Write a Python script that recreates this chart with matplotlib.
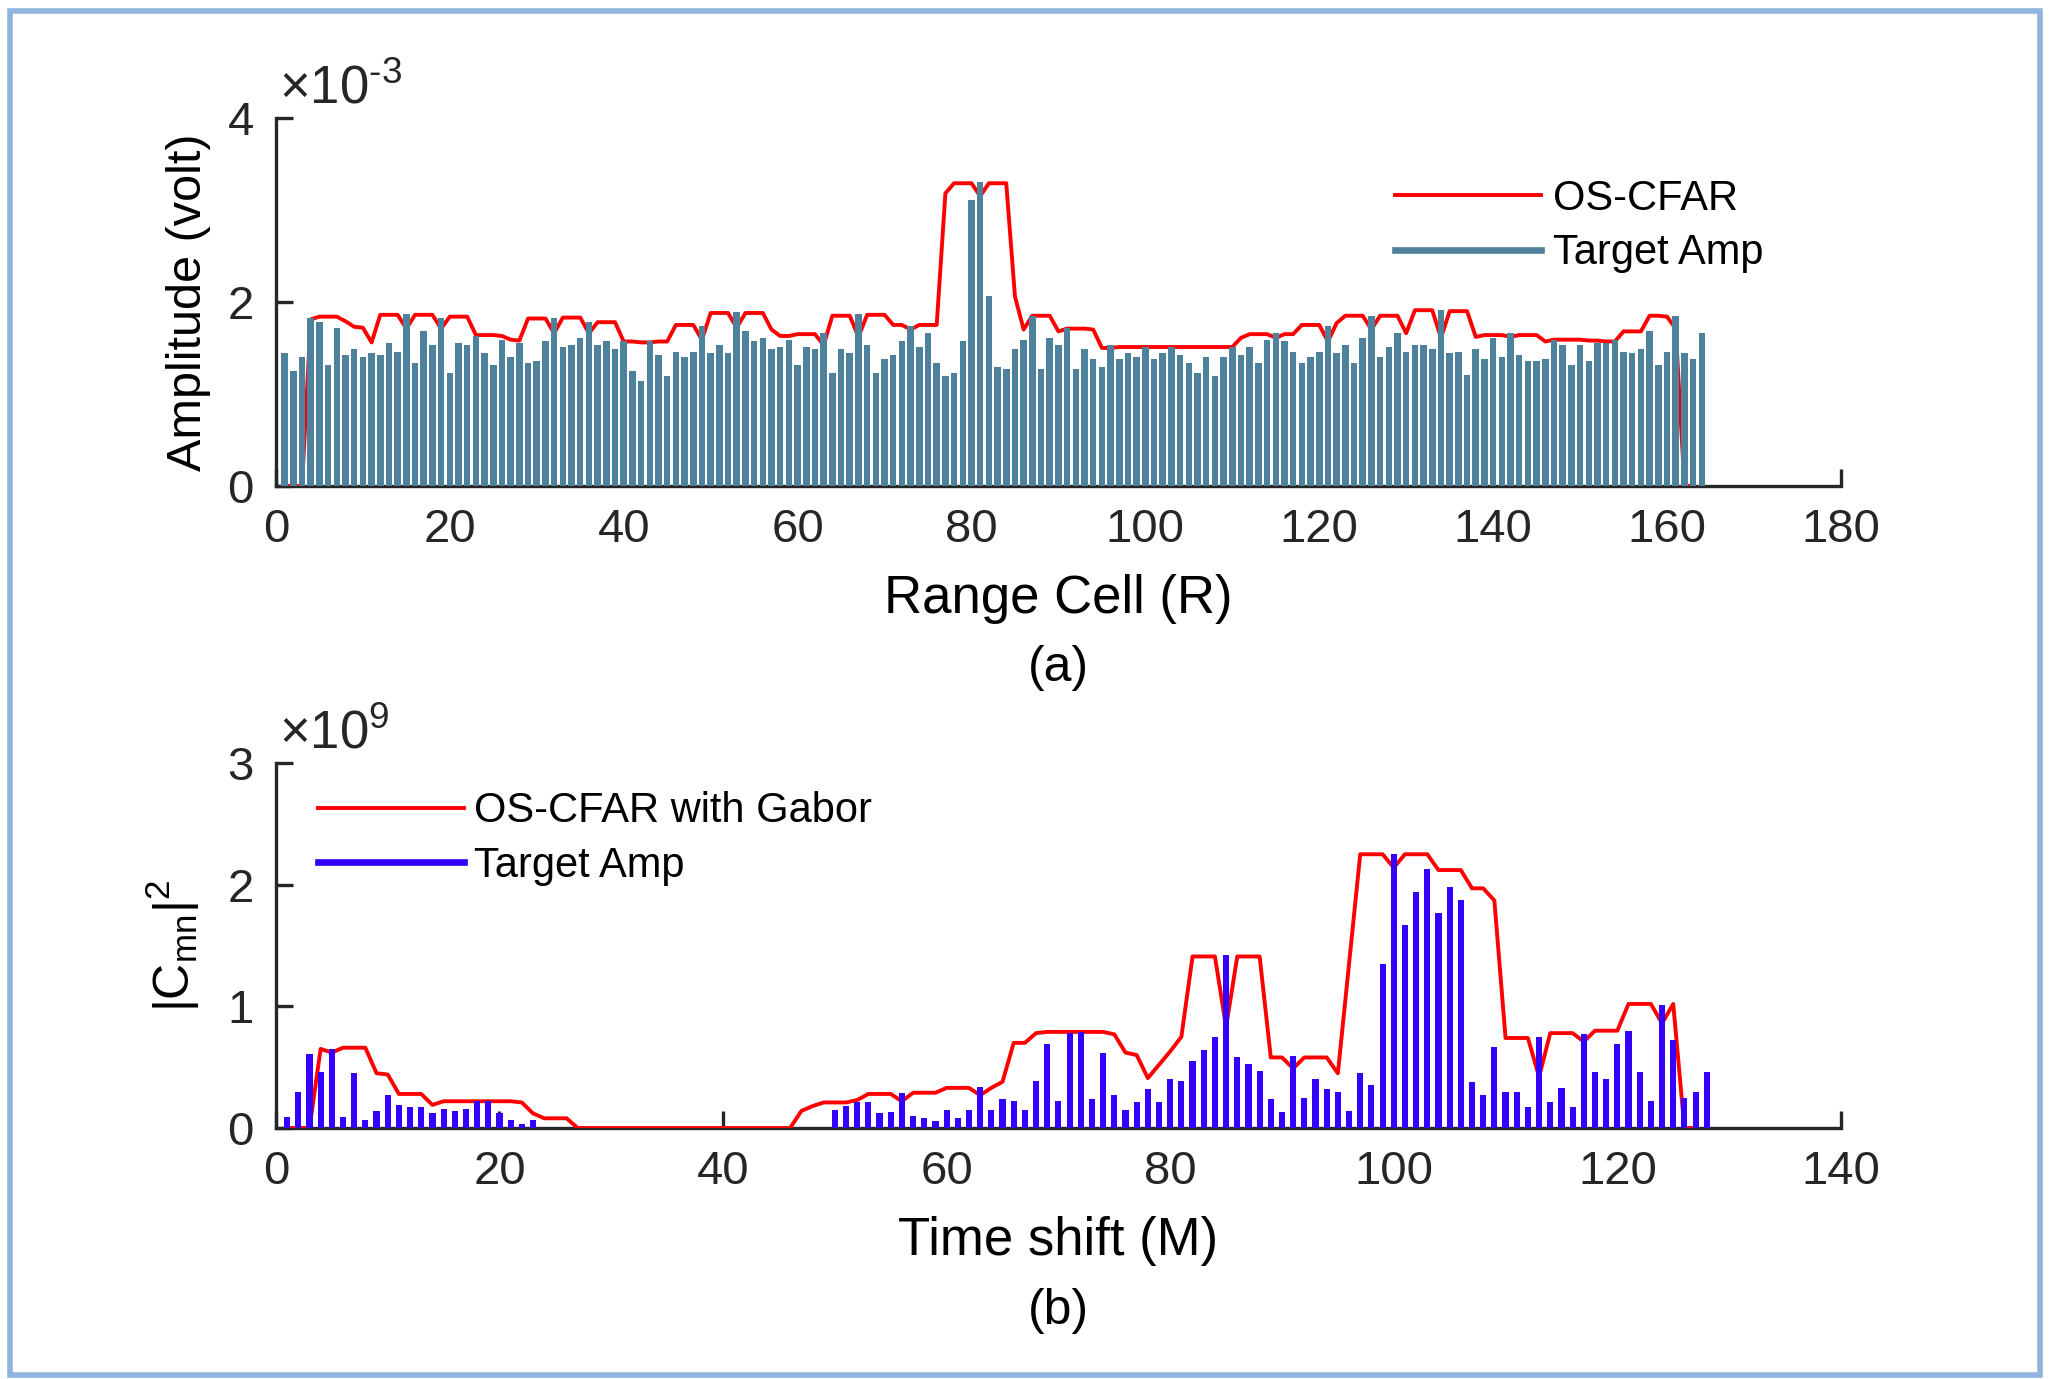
import numpy as np
import matplotlib
matplotlib.use("Agg")
import matplotlib.pyplot as plt
from matplotlib.lines import Line2D
from matplotlib.patches import Rectangle

plt.rcParams["font.family"] = ["Liberation Sans", "DejaVu Sans"]
plt.rcParams["mathtext.fontset"] = "custom"
plt.rcParams["mathtext.rm"] = "Liberation Sans"
plt.rcParams["mathtext.it"] = "Liberation Sans"

# (a) range cells, amplitude in 1e-3 volt
amp_a = [1.44, 1.25, 1.40, 1.83, 1.78, 1.32, 1.72, 1.42, 1.49, 1.40,
         1.44, 1.42, 1.55, 1.46, 1.87, 1.34, 1.68, 1.53, 1.83, 1.23,
         1.55, 1.53, 1.63, 1.44, 1.32, 1.59, 1.40, 1.55, 1.34, 1.36,
         1.57, 1.83, 1.51, 1.53, 1.61, 1.78, 1.53, 1.57, 1.49, 1.57,
         1.25, 1.14, 1.57, 1.42, 1.19, 1.46, 1.40, 1.46, 1.74, 1.44,
         1.53, 1.44, 1.89, 1.68, 1.57, 1.61, 1.49, 1.51, 1.59, 1.32,
         1.51, 1.49, 1.66, 1.23, 1.49, 1.44, 1.87, 1.53, 1.23, 1.38,
         1.42, 1.57, 1.74, 1.51, 1.66, 1.34, 1.19, 1.23, 1.57, 3.11,
         3.30, 2.06, 1.29, 1.27, 1.49, 1.59, 1.85, 1.27, 1.61, 1.53,
         1.72, 1.27, 1.49, 1.38, 1.29, 1.53, 1.38, 1.44, 1.40, 1.51,
         1.38, 1.44, 1.51, 1.42, 1.34, 1.23, 1.40, 1.19, 1.40, 1.51,
         1.42, 1.51, 1.34, 1.59, 1.66, 1.57, 1.46, 1.34, 1.40, 1.46,
         1.74, 1.44, 1.53, 1.34, 1.61, 1.85, 1.40, 1.51, 1.66, 1.46,
         1.53, 1.53, 1.49, 1.91, 1.44, 1.46, 1.21, 1.49, 1.38, 1.61,
         1.40, 1.66, 1.42, 1.36, 1.36, 1.38, 1.59, 1.53, 1.32, 1.53,
         1.36, 1.55, 1.55, 1.59, 1.46, 1.44, 1.49, 1.68, 1.32, 1.46,
         1.85, 1.44, 1.38, 1.66]

thr_a = [0, 0, 0, 1.81, 1.84, 1.84, 1.84, 1.79, 1.73, 1.72,
         1.56, 1.86, 1.86, 1.86, 1.71, 1.86, 1.86, 1.86, 1.71, 1.84,
         1.84, 1.84, 1.64, 1.64, 1.64, 1.63, 1.59, 1.58, 1.82, 1.82,
         1.82, 1.66, 1.83, 1.83, 1.83, 1.66, 1.78, 1.78, 1.78, 1.57,
         1.57, 1.56, 1.56, 1.57, 1.57, 1.75, 1.75, 1.75, 1.59, 1.88,
         1.88, 1.88, 1.72, 1.88, 1.88, 1.88, 1.70, 1.63, 1.63, 1.65,
         1.65, 1.65, 1.53, 1.85, 1.85, 1.85, 1.62, 1.86, 1.86, 1.86,
         1.75, 1.75, 1.70, 1.75, 1.75, 1.75, 3.18, 3.29, 3.29, 3.29,
         3.15, 3.29, 3.29, 3.29, 2.06, 1.70, 1.85, 1.85, 1.85, 1.68,
         1.71, 1.71, 1.71, 1.70, 1.50, 1.50, 1.51, 1.51, 1.51, 1.51,
         1.51, 1.51, 1.51, 1.51, 1.51, 1.51, 1.51, 1.51, 1.51, 1.51,
         1.61, 1.65, 1.65, 1.65, 1.61, 1.65, 1.65, 1.75, 1.75, 1.75,
         1.57, 1.77, 1.85, 1.85, 1.85, 1.70, 1.85, 1.85, 1.85, 1.66,
         1.91, 1.91, 1.91, 1.61, 1.90, 1.90, 1.90, 1.62, 1.64, 1.64,
         1.64, 1.62, 1.64, 1.64, 1.64, 1.57, 1.59, 1.59, 1.59, 1.59,
         1.58, 1.58, 1.57, 1.57, 1.68, 1.68, 1.68, 1.85, 1.85, 1.84,
         1.71, 0, 0]

# (b) time shift, |Cmn|^2 in 1e9
amp_b = [0.09, 0.30, 0.61, 0.46, 0.65, 0.09, 0.45, 0.07, 0.14, 0.27,
         0.19, 0.17, 0.17, 0.12, 0.16, 0.14, 0.16, 0.22, 0.22, 0.12,
         0.07, 0.03, 0.07, 0, 0, 0, 0, 0, 0, 0,
         0, 0, 0, 0, 0, 0, 0, 0, 0, 0,
         0, 0, 0, 0, 0, 0, 0, 0, 0, 0.15,
         0.18, 0.21, 0.21, 0.12, 0.13, 0.29, 0.10, 0.08, 0.06, 0.15,
         0.08, 0.15, 0.34, 0.15, 0.24, 0.22, 0.15, 0.39, 0.69, 0.22,
         0.78, 0.79, 0.24, 0.62, 0.27, 0.15, 0.21, 0.32, 0.21, 0.40,
         0.39, 0.55, 0.64, 0.75, 1.42, 0.58, 0.53, 0.47, 0.24, 0.13,
         0.59, 0.25, 0.40, 0.32, 0.30, 0.14, 0.45, 0.35, 1.35, 2.25,
         1.67, 1.94, 2.13, 1.77, 1.98, 1.87, 0.38, 0.27, 0.67, 0.30,
         0.30, 0.17, 0.75, 0.21, 0.33, 0.17, 0.77, 0.46, 0.40, 0.69,
         0.80, 0.46, 0.22, 1.01, 0.72, 0.25, 0.30, 0.46]

thr_b = [0, 0, 0, 0.65, 0.62, 0.66, 0.66, 0.66, 0.45, 0.44,
         0.28, 0.28, 0.28, 0.19, 0.22, 0.22, 0.22, 0.22, 0.22, 0.22,
         0.22, 0.21, 0.12, 0.08, 0.08, 0.08, 0, 0, 0, 0,
         0, 0, 0, 0, 0, 0, 0, 0, 0, 0,
         0, 0, 0, 0, 0, 0, 0.14, 0.18, 0.21, 0.21,
         0.21, 0.23, 0.28, 0.28, 0.28, 0.22, 0.29, 0.29, 0.29, 0.33,
         0.33, 0.33, 0.27, 0.33, 0.38, 0.70, 0.70, 0.78, 0.79, 0.79,
         0.79, 0.79, 0.79, 0.79, 0.77, 0.62, 0.60, 0.41, 0.52, 0.63,
         0.75, 1.41, 1.41, 1.41, 0.83, 1.41, 1.41, 1.41, 0.58, 0.58,
         0.49, 0.58, 0.58, 0.58, 0.45, 1.35, 2.25, 2.25, 2.25, 2.14,
         2.25, 2.25, 2.25, 2.12, 2.12, 2.12, 1.97, 1.97, 1.87, 0.74,
         0.74, 0.74, 0.42, 0.78, 0.78, 0.78, 0.71, 0.80, 0.80, 0.80,
         1.02, 1.02, 1.02, 0.86, 1.02, 0, 0]

cells_a = np.arange(1, len(amp_a) + 1)
cells_b = np.arange(1, len(amp_b) + 1)

red = "#ff0000"
teal = "#4e819b"
blue = "#3300ff"
axc = "#262626"

fig = plt.figure(figsize=(10.25, 6.895), dpi=200)
ax1 = fig.add_axes([0.1346, 0.6476, 0.7634, 0.2669])
ax2 = fig.add_axes([0.1346, 0.1820, 0.7634, 0.2647])


def style(ax):
    for s in ["top", "right"]:
        ax.spines[s].set_visible(False)
    for s in ["left", "bottom"]:
        ax.spines[s].set_linewidth(1.2)
        ax.spines[s].set_color(axc)
    ax.tick_params(direction="in", length=6, width=1.2, colors=axc,
                   labelsize=17, labelcolor="#262626", pad=8)


# (a)
ax1.plot(np.arange(1, len(thr_a) + 1), thr_a, color=red, lw=1.4, zorder=2.6)
ax1.bar(cells_a, amp_a, width=0.75, color=teal, zorder=3)
ax1.set_xlim(0, 180)
ax1.set_ylim(0, 4)
ax1.set_xticks(np.arange(0, 181, 20))
ax1.set_yticks([0, 2, 4])
style(ax1)
ax1.set_xlabel("Range Cell (R)", fontsize=19, labelpad=8)
ax1.set_ylabel("Amplitude (volt)", fontsize=17.5, labelpad=6)
ax1.text(0.002, 1.01, r"$\times10^{\text{-3}}$", transform=ax1.transAxes,
         ha="left", va="bottom", fontsize=19, color="#262626")
h1 = [Line2D([], [], color=red, lw=1.4), Line2D([], [], color=teal, lw=2.4)]
ax1.legend(h1, ["OS-CFAR", "Target Amp"], loc="upper left",
           bbox_to_anchor=(0.715, 0.835), frameon=False, fontsize=15,
           handlelength=3.5, handletextpad=0.3, labelspacing=0.35,
           borderpad=0, borderaxespad=0)
fig.text(0.5163, 0.5156, "(a)", ha="center", va="center", fontsize=18)

# (b)
ax2.plot(np.arange(1, len(thr_b) + 1), thr_b, color=red, lw=1.4, zorder=2.6)
ax2.bar(cells_b, amp_b, width=0.55, color=blue, zorder=3)
ax2.set_xlim(0, 140)
ax2.set_ylim(0, 3)
ax2.set_xticks(np.arange(0, 141, 20))
ax2.set_yticks([0, 1, 2, 3])
style(ax2)
ax2.set_xlabel("Time shift (M)", fontsize=19, labelpad=8)
ax2.set_ylabel(r"$|C_{mn}|^{2}$", fontsize=18, labelpad=9)
ax2.text(0.002, 1.01, r"$\times10^{9}$", transform=ax2.transAxes,
         ha="left", va="bottom", fontsize=19, color="#262626")
h2 = [Line2D([], [], color=red, lw=1.4), Line2D([], [], color=blue, lw=2.4)]
ax2.legend(h2, ["OS-CFAR with Gabor", "Target Amp"], loc="upper left",
           bbox_to_anchor=(0.027, 0.922), frameon=False, fontsize=15,
           handlelength=3.5, handletextpad=0.25, labelspacing=0.35,
           borderpad=0, borderaxespad=0)
fig.text(0.5163, 0.0493, "(b)", ha="center", va="center", fontsize=18)

fig.patches.append(Rectangle((0.005, 0.003), 0.99, 0.989, transform=fig.transFigure,
                             fill=False, edgecolor="#8fb4de", lw=2))

fig.savefig("out.png", dpi=200)
plt.close(fig)
